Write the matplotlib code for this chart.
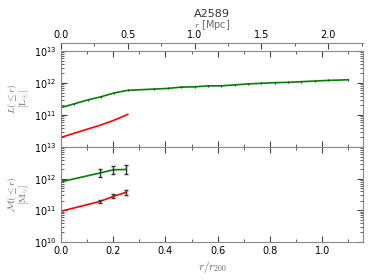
import matplotlib
matplotlib.use("Agg")
import matplotlib.pyplot as plt
import numpy as np
from matplotlib.ticker import MultipleLocator, FixedLocator, LogLocator, NullFormatter

plt.rcParams["mathtext.fontset"] = "cm"
plt.rcParams["font.size"] = 7

R200 = 1.955  # Mpc
GREY = "#888888"

# luminosity profile (radius in Mpc, log10 L)
lum_gal_r = [0.0, 0.1, 0.2, 0.3, 0.4, 0.5, 0.7, 0.8, 0.9, 1.0, 1.1, 1.2,
             1.3, 1.4, 1.5, 1.6, 1.7, 1.8, 1.9, 2.0, 2.15]
lum_gal_logl = [11.23, 11.35, 11.47, 11.57, 11.69, 11.77, 11.81, 11.83, 11.87,
                11.88, 11.91, 11.91, 11.94, 11.97, 11.99, 12.01, 12.02, 12.04,
                12.06, 12.08, 12.10]
lum_bcg_r = [0.0, 0.3, 0.4, 0.5]
lum_bcg_logl = [10.30, 10.69, 10.84, 11.02]

# mass profile (r/r200, log10 M, error in dex)
mass_x = [0.0, 0.15, 0.2, 0.25]
mass_gal_logm = [11.90, 12.18, 12.28, 12.29]
mass_gal_err = [0.0, 0.13, 0.13, 0.15]
mass_bcg_logm = [10.97, 11.28, 11.44, 11.57]
mass_bcg_err = [0.0, 0.05, 0.06, 0.08]


def err_bounds(logv, err):
    logv = np.asarray(logv)
    err = np.asarray(err)
    v = 10 ** logv
    return v, np.vstack([v - 10 ** (logv - err), 10 ** (logv + err) - v])


def style_axis(ax):
    for sp in ax.spines.values():
        sp.set_color(GREY)
    ax.set_yscale("log")
    ax.set_ylim(1e10, 1e13)
    ax.set_xlim(0, 1.157)
    ax.xaxis.set_major_locator(FixedLocator([0.0, 0.2, 0.4, 0.6, 0.8, 1.0]))
    ax.xaxis.set_minor_locator(MultipleLocator(0.1))
    ax.yaxis.set_major_locator(LogLocator(base=10, numticks=10))
    ax.yaxis.set_minor_locator(LogLocator(base=10, subs=np.arange(2, 10), numticks=10))
    ax.yaxis.set_minor_formatter(NullFormatter())
    ax.tick_params(which="both", direction="in", top=True, right=True,
                   color="#444444", labelsize=7, pad=3)
    ax.tick_params(which="major", length=4)
    ax.tick_params(which="minor", length=2)


fig = plt.figure(figsize=(3.74, 2.80), dpi=100)
ax_l = fig.add_axes([0.163, 0.475, 0.808, 0.343])
ax_m = fig.add_axes([0.163, 0.136, 0.808, 0.339], sharex=ax_l)
style_axis(ax_l)
style_axis(ax_m)

r_gal = np.array(lum_gal_r) / R200
r_bcg = np.array(lum_bcg_r) / R200
lg, lg_e = err_bounds(lum_gal_logl, [0.03] * len(lum_gal_logl))
lb = 10 ** np.array(lum_bcg_logl)
ax_l.plot(r_gal, lg, color="green", lw=1.2)
ax_l.errorbar(r_gal[1:], lg[1:], yerr=lg_e[:, 1:], fmt="none", ecolor="#333333",
              elinewidth=0.8, capsize=0)
ax_l.plot(r_bcg, lb, color="red", lw=1.2)
ax_l.tick_params(labelbottom=False)
ax_l.yaxis.set_major_locator(FixedLocator([1e11, 1e12, 1e13]))
ax_l.set_ylim(1e10, 1e13)
ax_l.set_ylabel(r"$L(\leq r)$" "\n" r"$[\mathrm{L_{\odot}}]$", color="#666666",
                fontsize=7, labelpad=2, linespacing=0.9)

mx = np.array(mass_x)
mg, mg_e = err_bounds(mass_gal_logm, mass_gal_err)
mb, mb_e = err_bounds(mass_bcg_logm, mass_bcg_err)
ax_m.plot(mx, mg, color="green", lw=1.2)
ax_m.errorbar(mx[1:], mg[1:], yerr=mg_e[:, 1:], fmt="none", ecolor="#333333",
              elinewidth=1.0, capsize=1.5)
ax_m.plot(mx, mb, color="red", lw=1.2)
ax_m.errorbar(mx[1:], mb[1:], yerr=mb_e[:, 1:], fmt="none", ecolor="#333333",
              elinewidth=1.0, capsize=1.5)
ax_m.set_ylabel(r"$\mathcal{M}(\leq r)$" "\n" r"$[\mathrm{M_{\odot}}]$", color="#666666",
                fontsize=7, labelpad=2, linespacing=0.9)
ax_m.set_xlabel(r"$r/r_{200}$", color="#666666", fontsize=8, labelpad=2)

sec = ax_l.secondary_xaxis(1.085, functions=(lambda x: x * R200, lambda x: x / R200))
sec.spines["top"].set_color(GREY)
sec.xaxis.set_major_locator(FixedLocator([0.0, 0.5, 1.0, 1.5, 2.0]))
sec.xaxis.set_minor_locator(FixedLocator([0.25, 0.75, 1.25, 1.75, 2.25]))
sec.tick_params(which="both", direction="in", color="#444444", labelsize=7, pad=2)
sec.tick_params(which="major", length=4)
sec.tick_params(which="minor", length=2)

fig.text(0.567, 0.912, r"$r$ [Mpc]", ha="center", va="center", fontsize=7, color="#666666")
fig.text(0.567, 0.95, "A2589", ha="center", va="center", fontsize=8, color="#333333")

fig.savefig("out.png", dpi=100)
